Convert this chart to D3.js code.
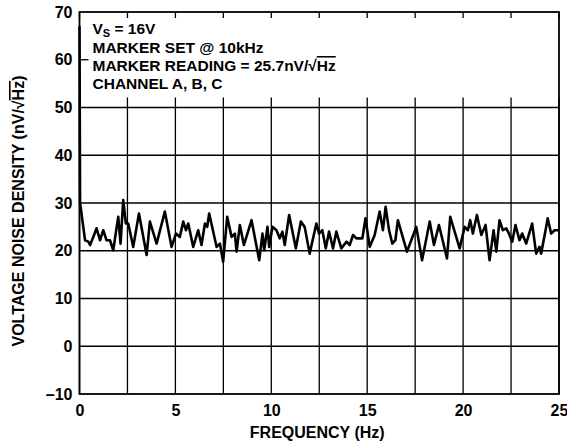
<!DOCTYPE html>
<html>
<head>
<meta charset="utf-8">
<script src="https://cdn.jsdelivr.net/npm/d3@7"></script>
<style>
  body { margin: 0; background: #fff; }
  svg text { font-family: "Liberation Sans", Arial, sans-serif; font-weight: bold; fill: #000; }
</style>
</head>
<body>
<div class="chart-container"></div>
<script>
// noise spectrum
var freq = [0, 0.03, 0.29, 0.46, 0.55, 0.72, 0.89, 1.07, 1.24, 1.41, 1.59, 1.76, 1.94, 2.02, 2.14, 2.28, 2.42, 2.54, 2.80, 3.10,
  3.50, 3.67, 4.02, 4.45, 4.80, 5.03, 5.23, 5.41, 5.55, 5.67, 5.93, 6.19, 6.36, 6.54, 6.66, 6.76, 7.15, 7.32, 7.49, 7.70,
  7.93, 8.10, 8.19, 8.36, 8.57, 8.97, 9.37, 9.54, 9.63, 9.80, 9.89, 10.06, 10.27, 10.44, 10.58, 10.70, 10.93, 11.28, 11.54, 11.74,
  12.00, 12.35, 12.49, 12.66, 12.84, 13.01, 13.22, 13.39, 13.65, 13.92, 14.09, 14.26, 14.44, 14.75, 14.91, 15.13, 15.39, 15.65, 15.82, 15.96,
  16.14, 16.31, 16.47, 16.60, 17.07, 17.56, 17.86, 18.26, 18.48, 18.74, 19.16, 19.33, 19.82, 20.08, 20.25, 20.37, 20.51, 20.72, 20.95, 21.17,
  21.38, 21.59, 21.73, 21.90, 22.07, 22.25, 22.39, 22.56, 22.73, 22.94, 23.08, 23.29, 23.60, 23.81, 23.98, 24.07, 24.30, 24.41, 24.59, 24.77, 25];
var noise = [67, 30, 22.2, 21.9, 21.2, 22.9, 24.7, 22.2, 24.3, 22.2, 22.2, 20.1, 25, 27.1, 21.5, 30.6, 25.7, 25.7, 20.8, 27.8,
  19.1, 26.1, 21.5, 28.2, 20.8, 23.6, 22.9, 26.1, 24.3, 25.7, 20.8, 24.3, 21.2, 25.7, 25, 27.8, 20.8, 21.5, 17.7, 27.1,
  22.9, 23.6, 19.8, 25.4, 21.2, 26.4, 18, 23.6, 20.1, 25, 20.8, 25, 24.3, 22.6, 24, 21.2, 27.5, 20.5, 26.1, 25,
  19.4, 25.7, 23.6, 24.3, 20.5, 24, 20.5, 24, 20.5, 21.9, 21.2, 23.3, 22.6, 22.6, 26.8, 20.8, 23.3, 28.2, 24.3, 29.2,
  24.3, 21.5, 22.2, 26.4, 19.8, 25, 18, 26.1, 21.2, 25.4, 18.4, 27.1, 20.5, 25, 24.3, 26.4, 23.6, 27.5, 23.3, 25.4,
  18, 24.3, 19.8, 26.4, 24.3, 24.7, 23.6, 21.9, 25.4, 22.2, 23.6, 21.5, 25.7, 19.4, 20.8, 19.4, 24.3, 26.8, 23.6, 24.3, 24.3];

var xTicks = [0, 5, 10, 15, 20, 25];
var yTicks = [-10, 0, 10, 20, 30, 40, 50, 60, 70];
var noteLines = ["MARKER SET @ 10kHz", "MARKER READING = 25.7nV/\u221A", "CHANNEL A, B, C"];

var width = 567, height = 448;
var margin = { top: 12, right: 8, bottom: 54, left: 79.5 };
var plotW = width - margin.left - margin.right;
var plotH = height - margin.top - margin.bottom;
var fs = 16;

var svg = d3.select(".chart-container").append("svg")
  .attr("width", width).attr("height", height);

var x = d3.scaleLinear().domain([0, 25]).range([0, plotW]);
var y = d3.scaleLinear().domain([-10, 70]).range([plotH, 0]);

var g = svg.append("g").attr("transform", "translate(" + margin.left + "," + margin.top + ")");

// grid: full below 50, just short ticks in the note area above
var vGrid = d3.range(0, 25.01, 2.5);
g.selectAll(".vgrid").data(vGrid).enter().append("line")
  .attr("x1", function (d) { return x(d); }).attr("x2", function (d) { return x(d); })
  .attr("y1", y(50) - 10).attr("y2", plotH)
  .attr("stroke", "#000").attr("stroke-width", 1.3);
g.selectAll(".vtop").data(vGrid).enter().append("line")
  .attr("x1", function (d) { return x(d); }).attr("x2", function (d) { return x(d); })
  .attr("y1", 0).attr("y2", 6)
  .attr("stroke", "#000").attr("stroke-width", 1.3);
g.selectAll(".hgrid").data([0, 10, 20, 30, 40, 50]).enter().append("line")
  .attr("x1", 0).attr("x2", plotW)
  .attr("y1", function (d) { return y(d); }).attr("y2", function (d) { return y(d); })
  .attr("stroke", "#000").attr("stroke-width", 1.3);
g.append("line").attr("x1", 0).attr("x2", 9).attr("y1", y(60)).attr("y2", y(60))
  .attr("stroke", "#000").attr("stroke-width", 1.3);

// frame
g.append("rect").attr("width", plotW).attr("height", plotH)
  .attr("fill", "none").attr("stroke", "#000").attr("stroke-width", 1.8);

// trace
var line = d3.line().x(function (d, i) { return x(freq[i]); }).y(function (d) { return y(d); });
g.append("path").datum(noise)
  .attr("d", line)
  .attr("fill", "none").attr("stroke", "#000").attr("stroke-width", 2.6)
  .attr("stroke-linejoin", "round");

// axes labels via d3 axes, lines hidden
var xAxis = g.append("g").attr("transform", "translate(0," + plotH + ")")
  .call(d3.axisBottom(x).tickValues(xTicks).tickSize(0).tickPadding(11));
xAxis.select(".domain").remove();
xAxis.selectAll("text").attr("font-size", fs).attr("font-family", null);

var yAxis = g.append("g")
  .call(d3.axisLeft(y).tickValues(yTicks).tickSize(0).tickPadding(7)
    .tickFormat(function (d) { return d < 0 ? "\u2013" + (-d) : d; }));
yAxis.select(".domain").remove();
yAxis.selectAll("text").attr("font-size", fs).attr("font-family", null);

// titles
svg.append("text").attr("x", margin.left + plotW / 2 - 2).attr("y", 438)
  .attr("text-anchor", "middle").attr("font-size", fs)
  .text("FREQUENCY (Hz)");

var yl = svg.append("text")
  .attr("transform", "translate(24," + 211 + ") rotate(-90)")
  .attr("text-anchor", "middle").attr("font-size", fs);
yl.append("tspan").text("VOLTAGE NOISE DENSITY (nV/\u221A");
yl.append("tspan").style("text-decoration", "overline").text("Hz");
yl.append("tspan").text(")");

// note block
var nfs = 15.5;
var note = g.append("g").attr("transform", "translate(13,0)");
var vs = note.append("text").attr("y", 22).attr("font-size", nfs);
vs.append("tspan").text("V");
vs.append("tspan").attr("dy", 2.5).attr("font-size", 11).text("S");
vs.append("tspan").attr("dy", -2.5).text(" = 16V");
note.selectAll(".nl").data(noteLines).enter().append("text")
  .attr("y", function (d, i) { return 41 + i * 18; })
  .attr("font-size", nfs)
  .each(function (d, i) {
    var t = d3.select(this);
    t.append("tspan").text(d);
    if (i === 1) t.append("tspan").style("text-decoration", "overline").text("Hz");
  });
</script>
</body>
</html>
